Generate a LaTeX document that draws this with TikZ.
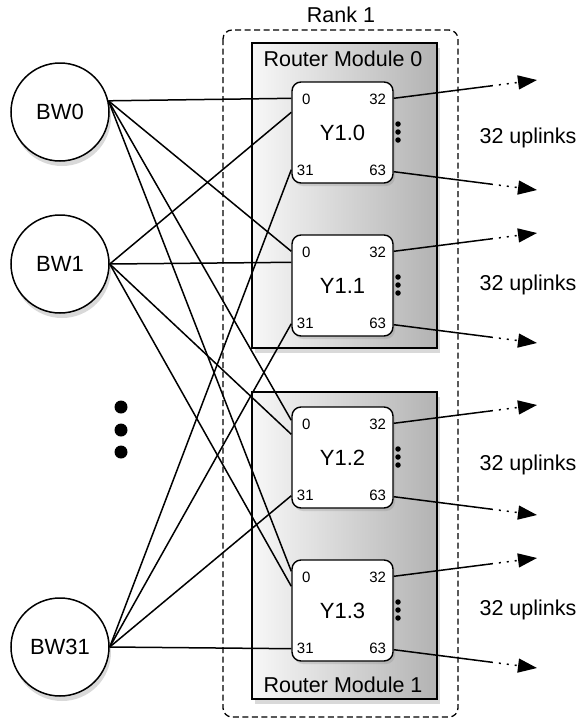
\documentclass[tikz,border=0pt]{standalone}
\usepackage{fontspec}
\setmainfont{Liberation Sans}
\usetikzlibrary{shadows,arrows.meta}

\begin{document}
\begin{tikzpicture}[x=1pt,y=-1pt,
    font=\fontsize{21.5}{23}\selectfont,
    bwnode/.style={circle,draw,line width=1.5pt,fill=white,minimum size=98pt,inner sep=0pt,
      font=\fontsize{22}{23}\selectfont,
      drop shadow={opacity=0.3,shadow xshift=2pt,shadow yshift=-5pt}},
    module/.style={draw,line width=1.4pt,minimum width=185pt,shading=axis,
      left color=black!3,right color=black!30,
      drop shadow={opacity=0.3,shadow xshift=3pt,shadow yshift=-5pt}},
    router/.style={draw,line width=1.4pt,rounded corners=9pt,fill=white,
      minimum width=101pt,minimum height=101pt,font=\fontsize{22}{23}\selectfont,
      drop shadow={opacity=0.25,shadow xshift=2pt,shadow yshift=-3pt}},
    port/.style={font=\fontsize{15}{16}\selectfont,inner sep=0pt},
    uplink/.style={line width=1.5pt,-{Triangle[length=19pt,width=14pt]},
      dash pattern=on 100pt off 6pt on 2pt off 6pt on 2pt off 6pt on 2pt off 40pt},
    dot/.style={circle,fill=black,inner sep=0pt,minimum size=#1}]
  \useasboundingbox (0,0) rectangle (580,721);

  % rank and router modules
  \draw[line width=1.3pt,dash pattern=on 6pt off 3.5pt,rounded corners=9pt]
    (223,30) rectangle (458,717);
  \node (rank) at (341,15) {Rank 1};
  \node[module,minimum height=305pt] (rm0) at (344.5,195.5) {};
  \node[module,minimum height=307pt] (rm1) at (344.5,545.5) {};
  \node (rm0label) at (343,59) {Router Module 0};
  \node (rm1label) at (343,685) {Router Module 1};

  % routers
  \node[router] (y10) at (342.5,132.5) {Y1.0};
  \node[router] (y11) at (342.5,285.5) {Y1.1};
  \node[router] (y12) at (342.5,457.5) {Y1.2};
  \node[router] (y13) at (342.5,610.5) {Y1.3};

  % port numbers
  \node[port] at ([xshift=15pt,yshift=-18pt]y10.north west) {0};
  \node[port] at ([xshift=-16pt,yshift=-18pt]y10.north east) {32};
  \node[port] at ([xshift=14pt,yshift=13pt]y10.south west) {31};
  \node[port] at ([xshift=-16pt,yshift=13pt]y10.south east) {63};
  \node[port] at ([xshift=15pt,yshift=-18pt]y11.north west) {0};
  \node[port] at ([xshift=-16pt,yshift=-18pt]y11.north east) {32};
  \node[port] at ([xshift=14pt,yshift=13pt]y11.south west) {31};
  \node[port] at ([xshift=-16pt,yshift=13pt]y11.south east) {63};
  \node[port] at ([xshift=15pt,yshift=-18pt]y12.north west) {0};
  \node[port] at ([xshift=-16pt,yshift=-18pt]y12.north east) {32};
  \node[port] at ([xshift=14pt,yshift=13pt]y12.south west) {31};
  \node[port] at ([xshift=-16pt,yshift=13pt]y12.south east) {63};
  \node[port] at ([xshift=15pt,yshift=-18pt]y13.north west) {0};
  \node[port] at ([xshift=-16pt,yshift=-18pt]y13.north east) {32};
  \node[port] at ([xshift=14pt,yshift=13pt]y13.south west) {31};
  \node[port] at ([xshift=-16pt,yshift=13pt]y13.south east) {63};

  % more ports
  \node[dot=5.5pt] at (398,124) {};
  \node[dot=5.5pt] at (398,132) {};
  \node[dot=5.5pt] at (398,140) {};
  \node[dot=5.5pt] at (398,277) {};
  \node[dot=5.5pt] at (398,285) {};
  \node[dot=5.5pt] at (398,293) {};
  \node[dot=5.5pt] at (398,449) {};
  \node[dot=5.5pt] at (398,457) {};
  \node[dot=5.5pt] at (398,465) {};
  \node[dot=5.5pt] at (398,602) {};
  \node[dot=5.5pt] at (398,610) {};
  \node[dot=5.5pt] at (398,618) {};

  % blade workers
  \node[bwnode] (bw0) at (60,112) {BW0};
  \node[bwnode] (bw1) at (60,264) {BW1};
  \node[bwnode] (bw31) at (60,647) {BW31};
  \node[dot=13pt] (more0) at (121,407) {};
  \node[dot=13pt] (more1) at (121,430) {};
  \node[dot=13pt] (more2) at (121,452) {};

  % uplink ends
  \coordinate (t10a) at (537,80);
  \coordinate (t10b) at (537,190);
  \coordinate (t11a) at (537,233);
  \coordinate (t11b) at (537,343);
  \coordinate (t12a) at (537,405);
  \coordinate (t12b) at (537,515);
  \coordinate (t13a) at (537,558);
  \coordinate (t13b) at (537,668);
  \node (up0) at (528,138) {32 uplinks};
  \node (up1) at (528,285) {32 uplinks};
  \node (up2) at (528,465) {32 uplinks};
  \node (up3) at (528,610) {32 uplinks};

  \begin{scope}[line width=1.5pt]
    \draw (bw0.13) to ([yshift=-17pt]y10.north west);
    \draw (bw0.13) to ([yshift=-17pt]y11.north west);
    \draw (bw0.13) to ([yshift=-14pt]y12.north west);
    \draw (bw0.13) to ([yshift=-12pt]y13.north west);
    \draw (bw1.east) to ([yshift=-31pt]y10.north west);
    \draw (bw1.east) to ([yshift=-28pt]y11.north west);
    \draw (bw1.east) to ([yshift=-28pt]y12.north west);
    \draw (bw1.east) to ([yshift=-27pt]y13.north west);
    \draw (bw31.east) to ([yshift=14pt]y10.south west);
    \draw (bw31.east) to ([yshift=13pt]y11.south west);
    \draw (bw31.east) to ([yshift=13pt]y12.south west);
    \draw (bw31.east) to ([yshift=13pt]y13.south west);
  \end{scope}
  \begin{scope}[uplink]
    \draw ([yshift=-17pt]y10.north east) to (t10a);
    \draw ([yshift=12pt]y10.south east) to (t10b);
    \draw ([yshift=-17pt]y11.north east) to (t11a);
    \draw ([yshift=12pt]y11.south east) to (t11b);
    \draw ([yshift=-17pt]y12.north east) to (t12a);
    \draw ([yshift=12pt]y12.south east) to (t12b);
    \draw ([yshift=-17pt]y13.north east) to (t13a);
    \draw ([yshift=12pt]y13.south east) to (t13b);
  \end{scope}
\end{tikzpicture}
\end{document}
